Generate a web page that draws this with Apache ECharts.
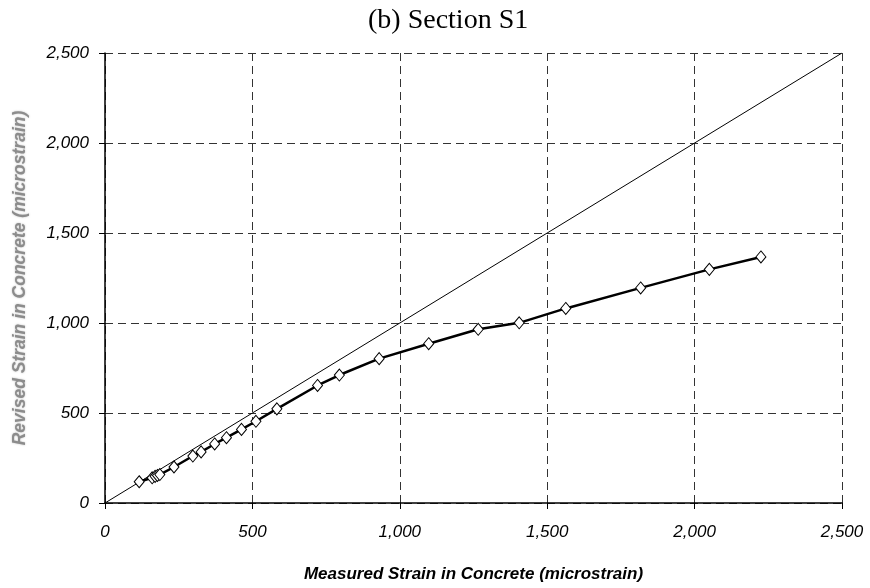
<!DOCTYPE html>
<html>
<head>
<meta charset="utf-8">
<script src="https://cdn.jsdelivr.net/npm/echarts@6/dist/echarts.min.js"></script>
<style>html,body{margin:0;padding:0;background:#fff;}#c{width:870px;height:588px;}</style>
</head>
<body>
<div id="c"></div>
<script>
const measured = [116, 160, 170, 178, 186, 234, 298, 326, 372, 412, 463, 512, 583, 721, 795, 930, 1098, 1266, 1405, 1563, 1817, 2050, 2225];
const revised  = [118, 140, 148, 153, 158, 200, 261, 284, 328, 363, 409, 454, 523, 653, 711, 802, 885, 965, 1001, 1081, 1195, 1298, 1367];
const refLineX = [0, 2500];
const refLineY = [0, 2500];
const titleText = '(b) Section S1';
const xName = 'Measured Strain in Concrete (microstrain)';
const yName = 'Revised Strain in Concrete (microstrain)';

const chart = echarts.init(document.getElementById('c'), null, {renderer: 'canvas'});
const fmt = v => v.toLocaleString('en-US');
const labelStyle = {fontFamily: 'Liberation Sans, Arial', fontStyle: 'italic', fontSize: 17, color: '#000'};
const split = {show: true, lineStyle: {type: [8, 5], color: '#333', width: 1}};

chart.setOption({
  animation: false,
  backgroundColor: '#fff',
  title: {
    text: titleText, left: 363, top: 2,
    textStyle: {fontFamily: 'Liberation Serif, Times New Roman', fontWeight: 'normal', fontSize: 28, color: '#000'}
  },
  grid: {left: 105, right: 28, top: 53, bottom: 85, containLabel: false, outerBoundsMode: 'none'},
  xAxis: {
    type: 'value', min: 0, max: 2500, interval: 500,
    name: xName, nameLocation: 'middle', nameGap: 63,
    nameTextStyle: {fontFamily: 'Liberation Sans, Arial', fontStyle: 'italic', fontWeight: 'bold', fontSize: 17, color: '#000'},
    axisLine: {show: true, onZero: false, lineStyle: {color: '#000', width: 1.5}},
    axisTick: {show: true, length: 6, inside: false, lineStyle: {color: '#000'}},
    axisLabel: Object.assign({margin: 21, formatter: fmt}, labelStyle),
    splitLine: split
  },
  yAxis: {
    type: 'value', min: 0, max: 2500, interval: 500,
    name: yName, nameLocation: 'middle', nameGap: 76, nameRotate: 90,
    nameTextStyle: {fontFamily: 'Liberation Sans, Arial', fontStyle: 'italic', fontWeight: 'bold', fontSize: 17.5, color: '#8c8c8c',
      textShadowColor: 'rgba(140,140,140,0.6)', textShadowBlur: 2},
    axisLine: {show: true, onZero: false, lineStyle: {color: '#000', width: 1.5}},
    axisTick: {show: true, length: 6, inside: false, lineStyle: {color: '#000'}},
    axisLabel: Object.assign({margin: 16, formatter: fmt}, labelStyle),
    splitLine: split
  },
  series: [
    {
      type: 'line',
      data: refLineX.map((x, i) => [x, refLineY[i]]),
      showSymbol: false, symbol: 'none',
      lineStyle: {color: '#000', width: 1},
      silent: true, z: 2
    },
    {
      type: 'line',
      data: measured.map((x, i) => [x, revised[i]]),
      symbol: 'diamond', symbolSize: [10, 12], showAllSymbol: true,
      itemStyle: {color: '#fff', borderColor: '#000', borderWidth: 1},
      lineStyle: {color: '#000', width: 2.5},
      z: 3
    }
  ]
});
</script>
</body>
</html>
